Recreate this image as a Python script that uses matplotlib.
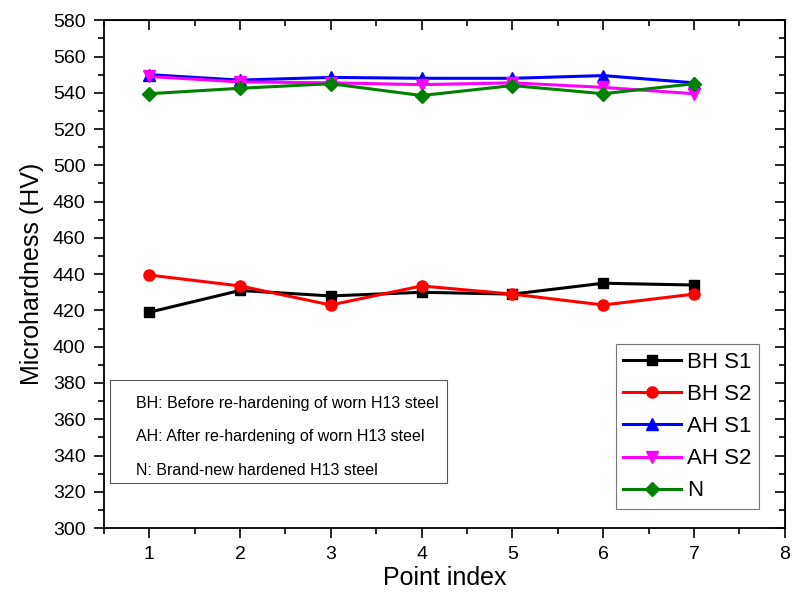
import matplotlib.pyplot as plt
import numpy as np
from matplotlib.patches import Rectangle
from matplotlib.ticker import MultipleLocator

plt.rcParams['font.family'] = ['Liberation Sans', 'DejaVu Sans']

# dati
points = [1, 2, 3, 4, 5, 6, 7]
bh_s1 = [419, 431, 428, 430, 429, 435, 434]
bh_s2 = [439.5, 433.5, 423, 433.5, 429, 423, 429]
ah_s1 = [550, 547, 548.5, 548, 548, 549.5, 545.5]
ah_s2 = [549, 546, 545.5, 544.5, 545.5, 543, 539.5]
n_new = [539.5, 542.5, 545, 538.5, 544, 539.5, 545]

labels = ['BH S1', 'BH S2', 'AH S1', 'AH S2', 'N']
series = [bh_s1, bh_s2, ah_s1, ah_s2, n_new]
colors = ['black', '#ff0000', '#0000ff', '#ff00ff', '#008000']
markers = ['s', 'o', '^', 'v', 'D']
msizes = [7, 8, 8, 8, 7]

fig = plt.figure(figsize=(7.92, 5.96), dpi=100)
ax = fig.add_axes([0.131, 0.114, 0.860, 0.852])

for y, lab, c, m, ms in zip(series, labels, colors, markers, msizes):
    ax.plot(points, y, color=c, marker=m, markersize=ms, linewidth=2.2, label=lab)

ax.set_xlim(0.5, 8)
ax.set_ylim(300, 580)
ax.xaxis.set_major_locator(MultipleLocator(1))
ax.xaxis.set_minor_locator(MultipleLocator(0.5))
ax.yaxis.set_major_locator(MultipleLocator(20))
ax.yaxis.set_minor_locator(MultipleLocator(10))
ax.set_xticks([1, 2, 3, 4, 5, 6, 7, 8])

ax.tick_params(which='both', direction='out', top=False, right=False, labelsize=14, width=1.2)
ax.tick_params(which='major', length=7, pad=6)
ax.tick_params(which='minor', length=4)

# tick interni su asse superiore e destro
sec_x = ax.secondary_xaxis('top')
sec_x.xaxis.set_major_locator(MultipleLocator(1))
sec_x.xaxis.set_minor_locator(MultipleLocator(0.5))
sec_x.tick_params(which='both', direction='in', labeltop=False, width=1.2)
sec_x.tick_params(which='major', length=7)
sec_x.tick_params(which='minor', length=4)
sec_y = ax.secondary_yaxis('right')
sec_y.yaxis.set_major_locator(MultipleLocator(20))
sec_y.yaxis.set_minor_locator(MultipleLocator(10))
sec_y.tick_params(which='both', direction='in', labelright=False, width=1.2)
sec_y.tick_params(which='major', length=7)
sec_y.tick_params(which='minor', length=4)

for s in ax.spines.values():
    s.set_linewidth(1.3)

ax.set_xlabel('Point index', fontsize=18, labelpad=2)
ax.set_ylabel('Microhardness (HV)', fontsize=18, labelpad=6)

leg = ax.legend(loc='upper right', bbox_to_anchor=(0.962, 0.362), fontsize=16,
                frameon=True, fancybox=False, edgecolor='#555555', borderaxespad=0,
                handlelength=2.6, handletextpad=0.25, labelspacing=0.5, borderpad=0.35)
leg.get_frame().set_linewidth(0.8)

# riquadro con le note
ax.add_patch(Rectangle((0.009, 0.088), 0.495, 0.203, transform=ax.transAxes,
                       fill=False, edgecolor='#555555', linewidth=0.8))
notes = ['BH: Before re-hardening of worn H13 steel',
         'AH: After re-hardening of worn H13 steel',
         'N: Brand-new hardened H13 steel']
for i, t in enumerate(notes):
    ax.text(0.048, 0.246 - i * 0.066, t, transform=ax.transAxes, fontsize=11.5, va='center')

plt.savefig('out.png', dpi=100)
